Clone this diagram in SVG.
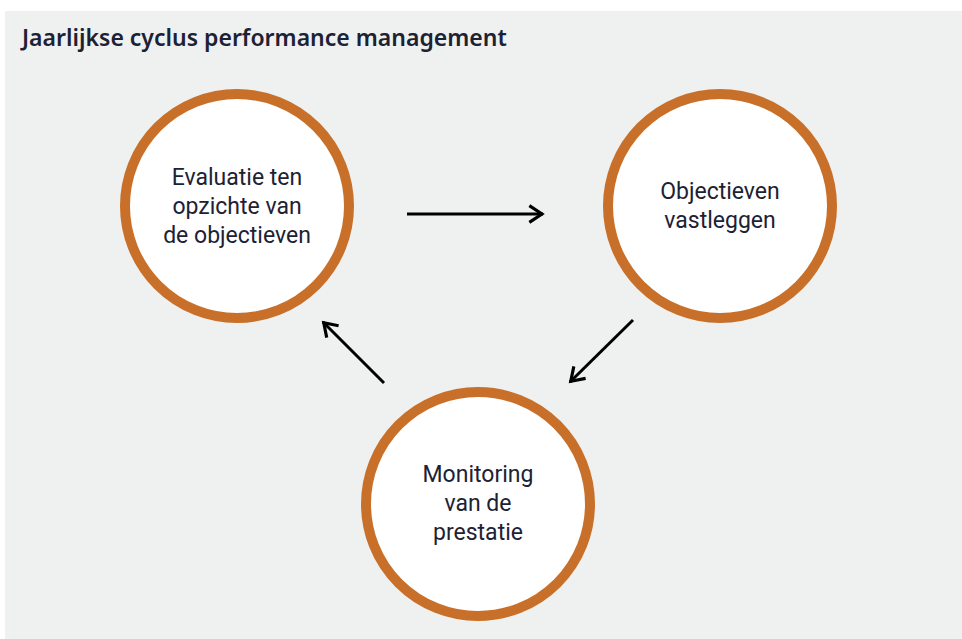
<svg xmlns="http://www.w3.org/2000/svg" width="962" height="639" viewBox="0 0 962 639">
<defs>
<style>
.node circle{fill:#ffffff;stroke:#c8702a;stroke-width:10}
.lbl{font-family:Roboto,"Noto Sans",sans-serif;font-size:23px;fill:#1c2233;text-anchor:middle}
.title{font-family:"Noto Sans","Open Sans",sans-serif;font-size:23px;font-weight:600;fill:#1c2233}
.conn line{stroke:#000;stroke-width:3;marker-end:url(#ah)}
</style>
<marker id="ah" viewBox="0 0 10 10" refX="8.5" refY="5" markerWidth="7" markerHeight="7" orient="auto" markerUnits="strokeWidth">
<path d="M2,1 L8,5 L2,9" fill="none" stroke="#000" stroke-width="1.5"/>
</marker>
</defs>
<rect x="0" y="0" width="962" height="639" fill="#ffffff"/>
<rect x="5" y="11" width="957" height="628" fill="#eff0f0"/>
<text class="title" x="22" y="46">Jaarlijkse cyclus performance management</text>
<g id="node-evaluatie" class="node">
<circle cx="237" cy="206" r="112"/>
<text class="lbl" x="237" y="185">Evaluatie ten</text>
<text class="lbl" x="237" y="214">opzichte van</text>
<text class="lbl" x="237" y="243">de objectieven</text>
</g>
<g id="node-objectieven" class="node">
<circle cx="720" cy="206" r="112"/>
<text class="lbl" x="720" y="199">Objectieven</text>
<text class="lbl" x="720" y="228">vastleggen</text>
</g>
<g id="node-monitoring" class="node">
<circle cx="478" cy="504" r="112"/>
<text class="lbl" x="478" y="482">Monitoring</text>
<text class="lbl" x="478" y="511">van de</text>
<text class="lbl" x="478" y="540">prestatie</text>
</g>
<g id="connectors" class="conn">
<line x1="407" y1="214" x2="543" y2="214"/>
<line x1="633" y1="320" x2="570" y2="382"/>
<line x1="384" y1="383" x2="323" y2="322"/>
</g>
</svg>
